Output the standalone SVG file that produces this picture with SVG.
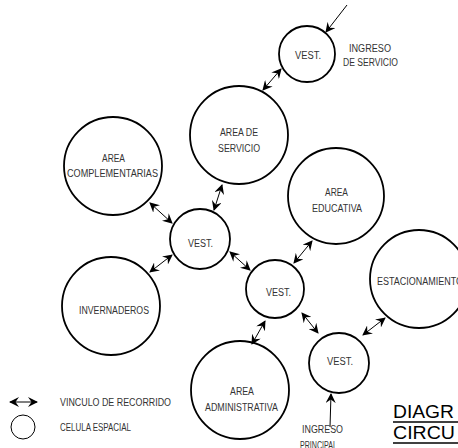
<svg xmlns="http://www.w3.org/2000/svg" width="458" height="448" viewBox="0 0 458 448">
<style>
.c{fill:none;stroke:#000;stroke-width:1.8}
.l{stroke:#000;stroke-width:1;fill:none}
.a{marker-start:url(#ah);marker-end:url(#ah)}
.e{marker-end:url(#ah)}
text{font-family:"Liberation Sans",Arial,sans-serif;font-size:10px;fill:#333}
.t{font-size:18px;fill:#000}
</style>
<defs>
<marker id="ah" viewBox="0 0 10 10" refX="9" refY="5" markerWidth="10" markerHeight="10" markerUnits="userSpaceOnUse" orient="auto-start-reverse">
<path d="M0,0 L10,5 L0,10 L3.5,5 z" fill="#000"/>
</marker>
</defs>
<rect width="458" height="448" fill="#fff"/>
<g id="connectors">
<line class="l e" x1="347" y1="5" x2="326" y2="32"/>
<line class="l a" x1="281" y1="69" x2="263" y2="90"/>
<line class="l a" x1="222" y1="185" x2="214" y2="210"/>
<line class="l a" x1="150" y1="203" x2="172" y2="223"/>
<line class="l a" x1="150" y1="272" x2="172" y2="255"/>
<line class="l a" x1="230" y1="252" x2="250" y2="270"/>
<line class="l a" x1="312" y1="241" x2="294" y2="263"/>
<line class="l a" x1="265" y1="321" x2="252" y2="344"/>
<line class="l a" x1="302" y1="313" x2="318" y2="333"/>
<line class="l a" x1="385" y1="318" x2="363" y2="335"/>
<line class="l e" x1="330" y1="427" x2="331" y2="394"/>
</g>
<g id="vest-servicio"><circle class="c" cx="307" cy="54" r="28"/><text x="295" y="59" textLength="26" lengthAdjust="spacingAndGlyphs">VEST.</text></g>
<g id="ingreso-servicio"><text x="349" y="52" textLength="42" lengthAdjust="spacingAndGlyphs">INGRESO</text><text x="343" y="66" textLength="55" lengthAdjust="spacingAndGlyphs">DE SERVICIO</text></g>
<g id="area-servicio"><circle class="c" cx="239" cy="135" r="49"/><text x="220" y="136" textLength="38" lengthAdjust="spacingAndGlyphs">AREA DE</text><text x="218" y="152" textLength="42" lengthAdjust="spacingAndGlyphs">SERVICIO</text></g>
<g id="area-complementarias"><circle class="c" cx="113" cy="166" r="49"/><text x="102" y="162" textLength="23" lengthAdjust="spacingAndGlyphs">AREA</text><text x="67" y="177" textLength="91" lengthAdjust="spacingAndGlyphs">COMPLEMENTARIAS</text></g>
<g id="vest-izq"><circle class="c" cx="200" cy="239" r="30"/><text x="188" y="247" textLength="25" lengthAdjust="spacingAndGlyphs">VEST.</text></g>
<g id="invernaderos"><circle class="c" cx="111" cy="306" r="49"/><text x="79" y="314" textLength="70" lengthAdjust="spacingAndGlyphs">INVERNADEROS</text></g>
<g id="vest-centro"><circle class="c" cx="275" cy="289" r="29"/><text x="266" y="296" textLength="25" lengthAdjust="spacingAndGlyphs">VEST.</text></g>
<g id="area-educativa"><circle class="c" cx="336" cy="196" r="48"/><text x="325" y="196" textLength="23" lengthAdjust="spacingAndGlyphs">AREA</text><text x="312" y="212" textLength="50" lengthAdjust="spacingAndGlyphs">EDUCATIVA</text></g>
<g id="estacionamiento"><circle class="c" cx="419" cy="279" r="49"/><text x="377" y="285" textLength="86" lengthAdjust="spacingAndGlyphs">ESTACIONAMIENTO</text></g>
<g id="vest-principal"><circle class="c" cx="339" cy="363" r="30"/><text x="327" y="365" textLength="26" lengthAdjust="spacingAndGlyphs">VEST.</text></g>
<g id="area-administrativa"><circle class="c" cx="240" cy="390" r="49"/><text x="230" y="395" textLength="24" lengthAdjust="spacingAndGlyphs">AREA</text><text x="205" y="411" textLength="73" lengthAdjust="spacingAndGlyphs">ADMINISTRATIVA</text></g>
<g id="ingreso-principal"><text x="302" y="433" textLength="41" lengthAdjust="spacingAndGlyphs">INGRESO</text><text x="300" y="449" textLength="37" lengthAdjust="spacingAndGlyphs">PRINCIPAL</text></g>
<g id="titulo"><text class="t" x="393" y="418" textLength="61" lengthAdjust="spacingAndGlyphs">DIAGR</text><line x1="393" y1="422" x2="458" y2="422" stroke="#000" stroke-width="1.5"/><text class="t" x="393" y="439" textLength="62" lengthAdjust="spacingAndGlyphs">CIRCU</text><line x1="393" y1="443" x2="458" y2="443" stroke="#000" stroke-width="1.5"/></g>
<g id="leyenda">
<line class="l a" x1="10" y1="402" x2="37" y2="402" stroke-width="1.5"/>
<text x="60" y="406" textLength="111" lengthAdjust="spacingAndGlyphs">VINCULO DE RECORRIDO</text>
<circle cx="23" cy="427" r="12" fill="none" stroke="#000" stroke-width="1"/>
<text x="60" y="431" textLength="71" lengthAdjust="spacingAndGlyphs">CELULA ESPACIAL</text>
</g>
</svg>
